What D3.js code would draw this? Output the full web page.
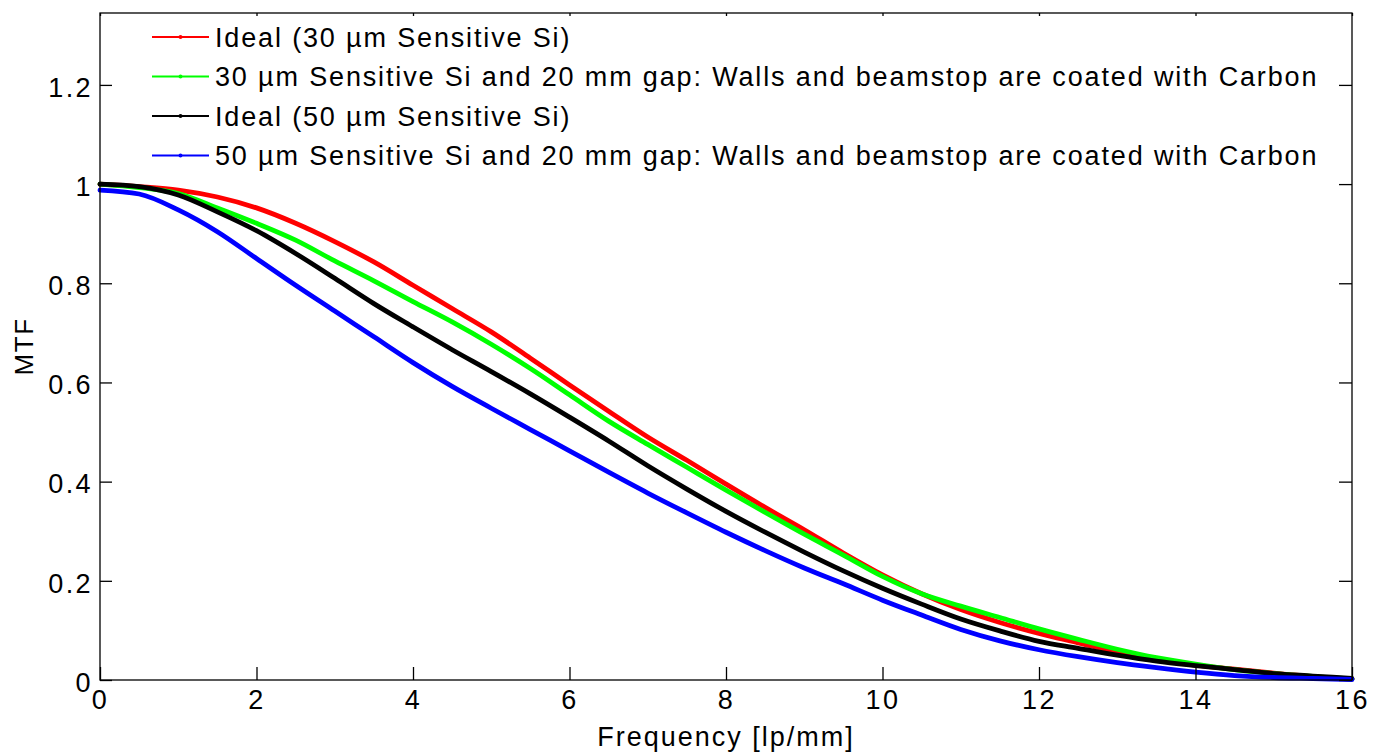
<!DOCTYPE html>
<html>
<head>
<meta charset="utf-8">
<script src="https://cdn.jsdelivr.net/npm/d3@7"></script>
<style>
  html, body { margin: 0; padding: 0; background: #fff; }
  svg { display: block; }
  text { font-family: "Liberation Sans", Arial, Helvetica, sans-serif; fill: #000; }
</style>
</head>
<body>
<svg id="chart" width="1373" height="754"></svg>
<script>
// Spatial frequency samples [lp/mm]
const frequency = [0, 0.5, 1, 1.5, 2, 2.5, 3, 3.5, 4, 4.5, 5, 5.5, 6, 6.5, 7, 7.5, 8,
                   8.5, 9, 9.5, 10, 10.5, 11, 11.5, 12, 12.5, 13, 13.5, 14, 14.5, 15, 15.5, 16];

// MTF curves
const ideal30 = [1.000, 0.995, 0.988, 0.974, 0.952, 0.921, 0.884, 0.843, 0.796, 0.749, 0.702,
                 0.649, 0.595, 0.542, 0.490, 0.443, 0.395, 0.348, 0.303, 0.256, 0.212, 0.174,
                 0.142, 0.116, 0.094, 0.075, 0.056, 0.041, 0.030, 0.022, 0.014, 0.007, 0.002];
const gap30   = [1.000, 0.993, 0.981, 0.952, 0.921, 0.887, 0.845, 0.805, 0.763, 0.722, 0.677,
                 0.628, 0.575, 0.522, 0.475, 0.429, 0.383, 0.338, 0.294, 0.252, 0.209, 0.174,
                 0.149, 0.126, 0.103, 0.082, 0.062, 0.045, 0.032, 0.021, 0.013, 0.007, 0.002];
const ideal50 = [1.000, 0.995, 0.978, 0.944, 0.906, 0.860, 0.810, 0.759, 0.712, 0.666, 0.622,
                 0.577, 0.530, 0.482, 0.432, 0.385, 0.340, 0.298, 0.258, 0.220, 0.185, 0.153,
                 0.123, 0.099, 0.078, 0.064, 0.050, 0.038, 0.029, 0.021, 0.013, 0.008, 0.003];
const gap50   = [0.988, 0.980, 0.948, 0.904, 0.850, 0.796, 0.744, 0.692, 0.640, 0.592, 0.548,
                 0.505, 0.462, 0.419, 0.377, 0.337, 0.298, 0.261, 0.226, 0.194, 0.161, 0.131,
                 0.102, 0.079, 0.061, 0.047, 0.035, 0.025, 0.016, 0.009, 0.005, 0.003, 0.001];

const seriesNames = [
  "Ideal (30 \u00b5m Sensitive Si)",
  "30 \u00b5m Sensitive Si and 20 mm gap: Walls and beamstop are coated with Carbon",
  "Ideal (50 \u00b5m Sensitive Si)",
  "50 \u00b5m Sensitive Si and 20 mm gap: Walls and beamstop are coated with Carbon"
];
const seriesValues = [ideal30, gap30, ideal50, gap50];
const seriesColors = ["#ff0000", "#00ff00", "#000000", "#0000ff"];

const xTicks = [0, 2, 4, 6, 8, 10, 12, 14, 16];
const yTicks = [0, 0.2, 0.4, 0.6, 0.8, 1, 1.2];
const xDomain = [0, 16];
const yDomain = [0, 1.345];

// Layout
const margin = { left: 100, right: 21, top: 13, bottom: 74 };
const W = 1373, H = 754;
const iw = W - margin.left - margin.right;
const ih = H - margin.top - margin.bottom;

const svg = d3.select("#chart");
const g = svg.append("g").attr("transform", `translate(${margin.left},${margin.top})`);

const x = d3.scaleLinear().domain(xDomain).range([0, iw]);
const y = d3.scaleLinear().domain(yDomain).range([ih, 0]);

const tickFont = 27;
const tickSpacing = "2.4px";

// Curves
const line = d3.line()
  .x((d, i) => x(frequency[i]))
  .y(d => y(d))
  .curve(d3.curveMonotoneX);

seriesValues.forEach((vals, k) => {
  g.append("path")
    .datum(vals)
    .attr("d", line)
    .attr("fill", "none")
    .attr("stroke", seriesColors[k])
    .attr("stroke-width", 4.8)
    .attr("stroke-linejoin", "round")
    .attr("stroke-linecap", "round");
});

// Axes box
g.append("rect")
  .attr("x", 0).attr("y", 0)
  .attr("width", iw).attr("height", ih)
  .attr("fill", "none")
  .attr("stroke", "#000")
  .attr("stroke-width", 1.3);

// Bottom axis: ticks pointing inward
const xAxisBottom = d3.axisBottom(x).tickValues(xTicks).tickSizeInner(-13).tickSizeOuter(0)
  .tickPadding(10).tickFormat(d3.format("d"));
const gxb = g.append("g").attr("transform", `translate(0,${ih})`).call(xAxisBottom);
gxb.select(".domain").remove();

// Top axis mirrored ticks (short)
const xAxisTop = d3.axisTop(x).tickValues(xTicks).tickSizeInner(-3).tickSizeOuter(0).tickFormat("");
const gxt = g.append("g").call(xAxisTop);
gxt.select(".domain").remove();

// Left axis
const yAxisLeft = d3.axisLeft(y).tickValues(yTicks).tickSizeInner(-12).tickSizeOuter(0)
  .tickPadding(7).tickFormat(d => d3.format("~g")(d));
const gyl = g.append("g").call(yAxisLeft);
gyl.select(".domain").remove();

// Right axis mirrored ticks
const yAxisRight = d3.axisRight(y).tickValues(yTicks).tickSizeInner(-13).tickSizeOuter(0).tickFormat("");
const gyr = g.append("g").attr("transform", `translate(${iw},0)`).call(yAxisRight);
gyr.select(".domain").remove();

svg.selectAll(".tick line").attr("stroke", "#000").attr("stroke-width", 1.3);
svg.selectAll(".tick text")
  .attr("font-family", "Liberation Sans, Arial, sans-serif")
  .attr("font-size", tickFont)
  .style("letter-spacing", tickSpacing)
  .attr("fill", "#000");
gyl.selectAll(".tick text").attr("dy", "0.42em");

// Axis titles
svg.append("text")
  .attr("x", margin.left + iw / 2)
  .attr("y", 746)
  .attr("text-anchor", "middle")
  .attr("font-size", 27)
  .style("letter-spacing", "2px")
  .text("Frequency [lp/mm]");

svg.append("text")
  .attr("transform", `translate(33,${margin.top + ih / 2}) rotate(-90)`)
  .attr("text-anchor", "middle")
  .attr("font-size", 26)
  .style("letter-spacing", "1.6px")
  .text("MTF");

// Legend (no box)
const legend = svg.append("g");
const legendY0 = 37, legendStep = 39.5;
seriesNames.forEach((name, k) => {
  const ly = legendY0 + k * legendStep;
  legend.append("line")
    .attr("x1", 152).attr("x2", 209)
    .attr("y1", ly).attr("y2", ly)
    .attr("stroke", seriesColors[k])
    .attr("stroke-width", 2);
  legend.append("circle")
    .attr("cx", 180.5).attr("cy", ly).attr("r", 2)
    .attr("fill", seriesColors[k]);
  legend.append("text")
    .attr("x", 215).attr("y", ly)
    .attr("dy", "0.36em")
    .attr("font-size", 27)
    .style("letter-spacing", "1.85px")
    .text(name);
});
</script>
</body>
</html>
